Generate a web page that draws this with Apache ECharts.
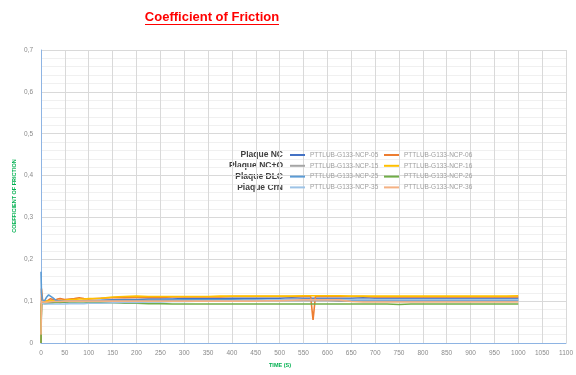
<!DOCTYPE html>
<html><head><meta charset="utf-8">
<script src="https://cdn.jsdelivr.net/npm/echarts@6/dist/echarts.min.js"></script>
<style>html,body{margin:0;padding:0;background:#fff}#c{width:576px;height:375px}</style>
</head><body><div id="c"></div>
<script>
var times = [0,1,3,5,8,12,16,20,25,30,35,40,50,60,70,80,90,100,125,150,175,200,225,250,275,300,325,350,375,400,425,450,475,500,525,550,565,570,575,600,625,650,675,700,725,750,775,800,825,850,875,900,925,950,975,1000];
var seriesNames = ['PTTLUB-G133-NCP-05','PTTLUB-G133-NCP-06','PTTLUB-G133-NCP-15','PTTLUB-G133-NCP-16','PTTLUB-G133-NCP-25','PTTLUB-G133-NCP-26','PTTLUB-G133-NCP-35','PTTLUB-G133-NCP-36'];
var rowLabels = ['Plaque NC','Plaque NC+O','Plaque DLC','Plaque CrN'];
var yTicks = ['0','0,1','0,2','0,3','0,4','0,5','0,6','0,7'];
var s05 = [0.03,0.09,0.097,0.098,0.097,0.096,0.096,0.097,0.097,0.098,0.098,0.097,0.098,0.099,0.099,0.1,0.1,0.101,0.102,0.103,0.104,0.104,0.105,0.105,0.105,0.106,0.106,0.106,0.106,0.107,0.107,0.107,0.107,0.107,0.108,0.107,0.107,0.107,0.107,0.107,0.107,0.107,0.108,0.107,0.107,0.107,0.107,0.107,0.107,0.107,0.107,0.107,0.107,0.107,0.107,0.107];
var s06 = [0,0.13,0.105,0.1,0.098,0.1,0.104,0.106,0.104,0.103,0.105,0.106,0.104,0.105,0.106,0.108,0.106,0.105,0.107,0.108,0.108,0.109,0.109,0.109,0.11,0.11,0.11,0.11,0.11,0.111,0.111,0.111,0.111,0.111,0.111,0.111,0.111,0.055,0.111,0.111,0.111,0.111,0.111,0.11,0.11,0.11,0.11,0.11,0.11,0.11,0.11,0.11,0.11,0.11,0.11,0.11];
var s15 = [0.05,0.095,0.098,0.099,0.1,0.1,0.099,0.099,0.1,0.1,0.1,0.1,0.1,0.1,0.1,0.1,0.1,0.1,0.1,0.1,0.101,0.101,0.101,0.101,0.101,0.101,0.1,0.1,0.1,0.1,0.101,0.101,0.101,0.101,0.101,0.101,0.101,0.101,0.101,0.101,0.1,0.1,0.1,0.1,0.1,0.1,0.1,0.1,0.1,0.1,0.1,0.1,0.1,0.1,0.1,0.1];
var s16 = [0.03,0.095,0.1,0.101,0.1,0.099,0.1,0.101,0.101,0.1,0.1,0.101,0.102,0.104,0.104,0.105,0.105,0.106,0.107,0.11,0.111,0.112,0.111,0.111,0.111,0.111,0.111,0.111,0.112,0.112,0.112,0.112,0.112,0.112,0.112,0.113,0.113,0.113,0.113,0.113,0.113,0.112,0.112,0.112,0.112,0.112,0.112,0.112,0.112,0.112,0.112,0.112,0.112,0.112,0.112,0.113];
var s25 = [0.17,0.12,0.1,0.098,0.102,0.11,0.115,0.114,0.108,0.103,0.101,0.1,0.1,0.1,0.1,0.1,0.101,0.101,0.101,0.102,0.102,0.102,0.102,0.102,0.102,0.103,0.103,0.103,0.103,0.103,0.103,0.103,0.103,0.103,0.103,0.103,0.103,0.103,0.103,0.103,0.103,0.103,0.103,0.103,0.103,0.103,0.103,0.103,0.103,0.103,0.103,0.103,0.103,0.103,0.103,0.103];
var s26 = [0,0.095,0.096,0.095,0.094,0.094,0.095,0.095,0.096,0.097,0.097,0.097,0.098,0.098,0.098,0.098,0.098,0.097,0.096,0.096,0.095,0.095,0.094,0.094,0.093,0.093,0.093,0.093,0.093,0.093,0.093,0.093,0.093,0.093,0.093,0.093,0.093,0.093,0.093,0.093,0.093,0.093,0.093,0.093,0.093,0.092,0.093,0.093,0.093,0.093,0.093,0.093,0.093,0.093,0.093,0.093];
var s35 = [0.1,0.095,0.094,0.094,0.093,0.093,0.093,0.093,0.093,0.093,0.093,0.093,0.093,0.094,0.094,0.094,0.094,0.095,0.095,0.096,0.097,0.097,0.098,0.098,0.099,0.099,0.1,0.1,0.101,0.101,0.102,0.102,0.103,0.103,0.104,0.104,0.104,0.104,0.104,0.104,0.104,0.104,0.104,0.104,0.104,0.104,0.104,0.104,0.104,0.104,0.104,0.104,0.104,0.104,0.104,0.104];
var s36 = [0.02,0.1,0.1,0.098,0.097,0.097,0.098,0.098,0.099,0.099,0.099,0.099,0.1,0.1,0.1,0.1,0.1,0.1,0.1,0.1,0.1,0.1,0.1,0.1,0.1,0.1,0.1,0.1,0.1,0.1,0.1,0.1,0.101,0.101,0.102,0.103,0.103,0.103,0.103,0.103,0.103,0.099,0.098,0.098,0.098,0.098,0.098,0.098,0.098,0.098,0.098,0.098,0.098,0.098,0.098,0.098];

var allValues = [s05,s06,s15,s16,s25,s26,s35,s36];
var colors = ['#4472c4','#ed7d31','#a5a5a5','#ffc000','#5b9bd5','#70ad47','#9dc3e6','#f4b183'];
var FONT = 'Liberation Sans';

var series = allValues.map(function(vals, i){
  return {
    name: seriesNames[i], type: 'line', showSymbol: false, symbol: 'none',
    data: times.map(function(t, j){ return [t, vals[j]]; }),
    lineStyle: {width: 1.6, color: colors[i]}, itemStyle: {color: colors[i]},
    emphasis: {disabled: true}, animation: false
  };
});

var legendCommon = {
  orient: 'vertical', icon: 'rect', itemWidth: 15, itemHeight: 2, itemGap: 2.8, padding: 0,
  textStyle: {fontFamily: FONT, fontSize: 6.5, color: '#a0a0a0', lineHeight: 8},
  selectedMode: false
};

var graphics = [
  {type:'text', x: 212, y: 17, style:{text:'Coefficient of Friction', fill:'#ff0000', font:'bold 13px "Liberation Sans"', align:'center', verticalAlign:'middle'}},
  {type:'line', shape:{x1:145, y1:24.5, x2:279, y2:24.5}, style:{stroke:'#ff0000', lineWidth:1.2}},
  {type:'text', x: 14, y: 196, rotation: Math.PI/2, style:{text:'COEFFICIENT OF FRICTION', fill:'#00b050', font:'bold 5.5px "Liberation Sans"', align:'center', verticalAlign:'middle'}},
  {type:'text', x: 280, y: 365, style:{text:'TIME (S)', fill:'#00b050', font:'bold 5.5px "Liberation Sans"', align:'center', verticalAlign:'middle'}}
];
var rowY = [155, 165.8, 176.6, 187.4];
rowLabels.forEach(function(lbl, i){
  graphics.push({type:'text', x: 283, y: rowY[i], style:{text: lbl, fill:'#404040', font:'bold 8.5px "Liberation Sans"', align:'right', verticalAlign:'middle'}});
});

var chart = echarts.init(document.getElementById('c'), null, {renderer:'canvas'});
chart.setOption({
  animation: false,
  backgroundColor: '#fff',
  grid: {left: 41, right: 8, top: 50, bottom: 32, containLabel: false},
  xAxis: {
    type: 'value', min: 0, max: 1100, interval: 50,
    axisLine: {show: true, lineStyle: {color: '#8eb4e3', width: 1}},
    axisTick: {show: false},
    axisLabel: {fontFamily: FONT, fontSize: 6.5, color: '#8a8a8a', margin: 7,
      formatter: function(v){ return String(v); }},
    splitLine: {show: true, lineStyle: {color: '#d9d9d9', width: 1}}
  },
  yAxis: {
    type: 'value', min: 0, max: 0.7, interval: 0.1,
    axisLine: {show: true, onZero: false, lineStyle: {color: '#8eb4e3', width: 1}},
    axisTick: {show: false},
    axisLabel: {fontFamily: FONT, fontSize: 6.5, color: '#8a8a8a', margin: 8,
      formatter: function(v){ return yTicks[Math.round(v*10)]; }},
    splitLine: {show: true, lineStyle: {color: '#d9d9d9', width: 1}},
    minorTick: {show: false, splitNumber: 5},
    minorSplitLine: {show: true, lineStyle: {color: '#f0f0f0', width: 1}}
  },
  legend: [
    Object.assign({left: 290, top: 151, data: [seriesNames[0], seriesNames[2], seriesNames[4], seriesNames[6]]}, legendCommon),
    Object.assign({left: 384, top: 151, data: [seriesNames[1], seriesNames[3], seriesNames[5], seriesNames[7]]}, legendCommon)
  ],
  graphic: graphics,
  series: series
});
</script></body></html>
